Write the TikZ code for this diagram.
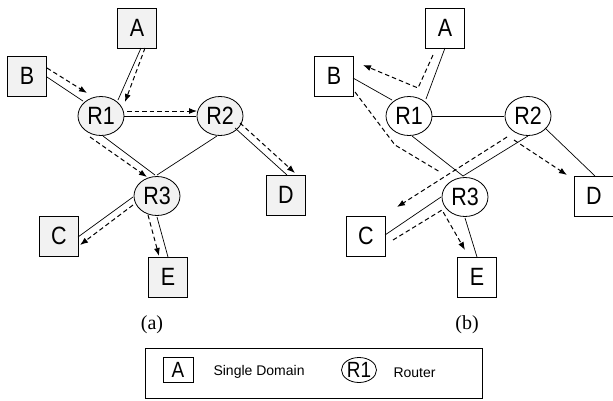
\documentclass[tikz,border=0pt]{standalone}
\usepackage{fontspec}
\usepackage{graphicx}
\setmainfont{Liberation Serif}
\setsansfont{Liberation Sans}
\usetikzlibrary{shapes.geometric,calc,arrows.meta}
\newcommand{\narrowtxt}[1]{\scalebox{0.86}[1]{#1}}
\begin{document}
\begin{tikzpicture}[x=1pt,y=-1pt,
  dom/.style={draw,rectangle,minimum width=39pt,minimum height=40pt,inner sep=0pt,
    font=\sffamily\fontsize{25}{25}\selectfont,line width=0.8pt},
  rt/.style={draw,ellipse,minimum width=46pt,minimum height=39pt,inner sep=0pt,
    font=\sffamily\fontsize{25}{25}\selectfont,line width=0.8pt},
  shade/.style={fill=gray!10},
  link/.style={line width=0.7pt},
  flow/.style={line width=1pt,dash pattern=on 4.5pt off 3pt,-{Latex[length=8pt,width=6pt]}},
  flowplain/.style={line width=1pt,dash pattern=on 4.5pt off 3pt},
  sublabel/.style={font=\fontsize{20}{20}\selectfont}
]
\useasboundingbox (0,0) rectangle (613,400);
% ---------- panel (a)
\node[dom,shade] (aA) at (137,28) {\narrowtxt{A}};
\node[dom,shade] (aB) at (27,76) {\narrowtxt{B}};
\node[rt,shade] (aR1) at (101,116) {\narrowtxt{R1}};
\node[rt,shade] (aR2) at (220,116) {\narrowtxt{R2}};
\node[rt,shade] (aR3) at (157,196) {\narrowtxt{R3}};
\node[dom,shade] (aD) at (286,195) {\narrowtxt{D}};
\node[dom,shade] (aC) at (59,236) {\narrowtxt{C}};
\node[dom,shade] (aE) at (168,277) {\narrowtxt{E}};
\node[sublabel] (capa) at (152,325) {(a)};
% solid links
\draw[link] ($(aA)+(4,20)$) -- ($(aR1)+(17,-16)$);
\draw[link] ($(aB)+(20,1)$) -- ($(aR1)+(-18,-15)$);
\draw[link] ($(aR1)+(23,0)$) -- ($(aR2)+(-24,0)$);
\draw[link] ($(aR1)+(2,20)$) -- ($(aR3)+(-2,-21)$);
\draw[link] ($(aR2)+(-3,20)$) -- ($(aR3)+(0,-21)$);
\draw[link] ($(aR2)+(15,12)$) -- ($(aD)+(1,-20)$);
\draw[link] ($(aR3)+(-24,1)$) -- ($(aC)+(19,1)$);
\draw[link] ($(aR3)+(0,21)$) -- ($(aE)+(0,-20)$);
% dashed flows
\draw[flow] ($(aA)+(8,20)$) -- ($(aR1)+(24,-14)$);
\draw[flow] ($(aB)+(20,-8)$) -- ($(aR1)+(-14,-23)$);
\draw[flow] ($(aR1)+(26,-5)$) -- ($(aR2)+(-23,-5)$);
\draw[flow] ($(aR1)+(-11,21)$) -- ($(aR3)+(-10,-19)$);
\draw[flow] ($(aR2)+(20,7)$) -- ($(aD)+(9,-22)$);
\draw[flow] ($(aR3)+(-24,9)$) -- ($(aC)+(21,9)$);
\draw[flow] ($(aR3)+(-9,19)$) -- ($(aE)+(-9,-21)$);
% ---------- panel (b)
\node[dom] (bA) at (445,28) {\narrowtxt{A}};
\node[dom] (bB) at (334,76) {\narrowtxt{B}};
\node[rt] (bR1) at (409,116) {\narrowtxt{R1}};
\node[rt] (bR2) at (528,116) {\narrowtxt{R2}};
\node[rt] (bR3) at (465,197) {\narrowtxt{R3}};
\node[dom] (bD) at (594,196) {\narrowtxt{D}};
\node[dom] (bC) at (366,236) {\narrowtxt{C}};
\node[dom] (bE) at (477,277) {\narrowtxt{E}};
\node[sublabel] (capb) at (467,325) {(b)};
% solid links
\draw[link] ($(bA)+(0,20)$) -- ($(bR1)+(17,-17)$);
\draw[link] ($(bB)+(19,2)$) -- ($(bR1)+(-17,-16)$);
\draw[link] ($(bR1)+(23,0)$) -- ($(bR2)+(-24,0)$);
\draw[link] ($(bR1)+(3,20)$) -- ($(bR3)+(-2,-21)$);
\draw[link] ($(bR2)+(0,20)$) -- ($(bR3)+(-2,-21)$);
\draw[link] ($(bR2)+(17,12)$) -- ($(bD)+(1,-20)$);
\draw[link] ($(bR3)+(-24,0)$) -- ($(bC)+(19,-1)$);
\draw[link] ($(bR3)+(0,21)$) -- ($(bE)+(0,-20)$);
% dashed flows
\draw[flow] ($(bA)+(-12,27)$) -- ($(bR1)+(9,-28)$) -- ($(bB)+(29,-11)$);
\draw[flowplain] ($(bB)+(21,16)$) -- ($(bR1)+(-14,29)$) -- ($(bR3)+(-25,-25)$);
\draw[flow] ($(bR2)+(-21,21)$) -- ($(bC)+(31,-29)$);
\draw[flow] ($(bR2)+(-14,24)$) -- ($(bD)+(-27,-21)$);
\draw[flow] ($(bC)+(27,4)$) -- ($(bR3)+(-23,13)$) -- ($(bE)+(-12,-27)$);
% ---------- legend
\node[draw,line width=0.8pt,minimum width=337pt,minimum height=50pt,inner sep=0pt] (legend) at (313.5,373) {};
\node[draw,rectangle,minimum width=30pt,minimum height=25pt,inner sep=0pt,line width=0.8pt,
  font=\sffamily\fontsize{22}{22}\selectfont] (lA) at (178,370) {\narrowtxt{A}};
\node[anchor=west,font=\sffamily\fontsize{14}{14}\selectfont] (lAt) at (210,372) {Single Domain};
\node[draw,ellipse,minimum width=35pt,minimum height=25pt,inner sep=0pt,line width=0.8pt,
  font=\sffamily\fontsize{22}{22}\selectfont] (lR) at (359,370) {\narrowtxt{R1}};
\node[anchor=west,font=\sffamily\fontsize{14}{14}\selectfont] (lRt) at (390,373) {Router};
\end{tikzpicture}
\end{document}
